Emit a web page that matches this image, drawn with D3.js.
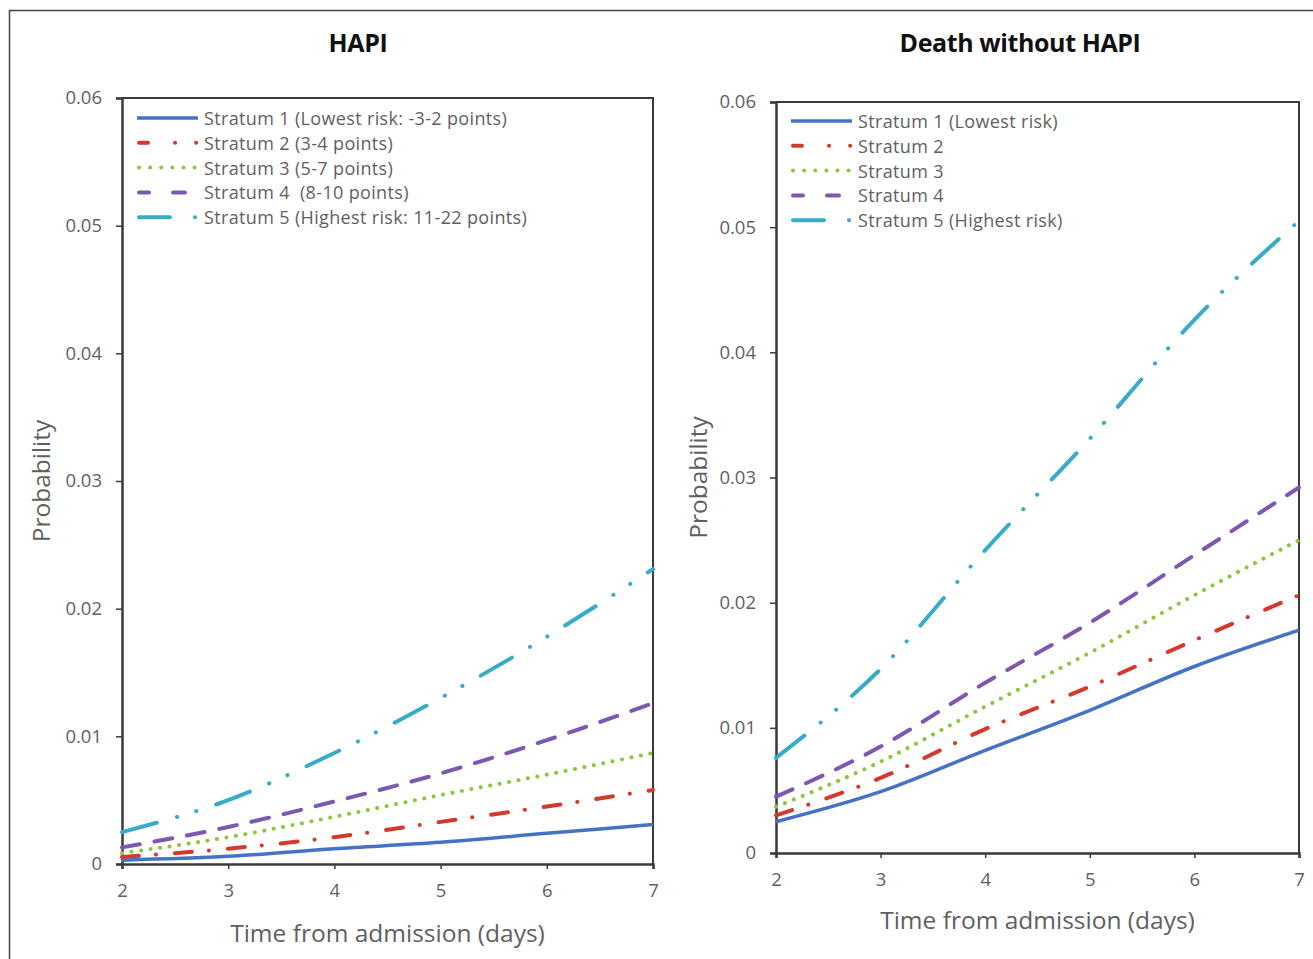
<!DOCTYPE html>
<html>
<head>
<meta charset="utf-8">
<script src="https://cdn.jsdelivr.net/npm/d3@7"></script>
<style>
  html, body { margin: 0; padding: 0; background: #fff; }
  svg { display: block; }
  text { font-family: "Open Sans", sans-serif; }
</style>
</head>
<body>
<svg id="chart" width="1313" height="959"></svg>
<script>
// ---------- data ----------
const days = [2, 3, 4, 5, 6, 7];
const yTicks = [0, 0.01, 0.02, 0.03, 0.04, 0.05, 0.06];

const hapiTitle = "HAPI";
const hapiLegend = [
  "Stratum 1 (Lowest risk: -3-2 points)",
  "Stratum 2 (3-4 points)",
  "Stratum 3 (5-7 points)",
  "Stratum 4  (8-10 points)",
  "Stratum 5 (Highest risk: 11-22 points)"
];
const hapiS1 = [0.0003, 0.0006, 0.0012, 0.0017, 0.0024, 0.0031];
const hapiS2 = [0.00055, 0.0012, 0.0021, 0.0033, 0.0045, 0.0058];
const hapiS3 = [0.00085, 0.0021, 0.0037, 0.0054, 0.0070, 0.0087];
const hapiS4 = [0.0013, 0.0029, 0.0049, 0.0071, 0.0097, 0.0126];
const hapiS5 = [0.0025, 0.0050, 0.0087, 0.0130, 0.0178, 0.0231];

const deathTitle = "Death without HAPI";
const deathLegend = [
  "Stratum 1 (Lowest risk)",
  "Stratum 2",
  "Stratum 3",
  "Stratum 4",
  "Stratum 5 (Highest risk)"
];
const deathS1 = [0.0025, 0.0049, 0.0082, 0.0114, 0.0149, 0.0178];
const deathS2 = [0.0030, 0.0060, 0.0099, 0.0133, 0.0170, 0.0206];
const deathS3 = [0.0037, 0.0073, 0.0117, 0.0160, 0.0206, 0.0250];
const deathS4 = [0.0045, 0.0085, 0.0136, 0.0184, 0.0238, 0.0292];
const deathS5 = [0.0076, 0.0147, 0.0242, 0.0331, 0.0426, 0.0505];

const xTitle = "Time from admission (days)";
const yTitle = "Probability";

// ---------- styles ----------
const colors = ["#4472c4", "#d33a2c", "#8dc63f", "#7e57b0", "#36acc9"];
const dashes = [null, "17,17,0.1,19", "0.1,9.5", "18,15", "36,21,0.1,20,0.1,21"];
const legendDashes = [null, "9,27,0.1,21,0.1,20", "0.1,11", "10,24,12,20", "31,25,0.1,20"];
const axisColor = "#3a3a3a";
const textColor = "#5f5f5f";
const font = "'Open Sans', sans-serif";

const svg = d3.select("#chart");

// outer frame
svg.append("path")
  .attr("d", "M9.5,980 L9.5,10.5 L1330,10.5")
  .attr("fill", "none").attr("stroke", "#444").attr("stroke-width", 1.5);

const panels = [
  { title: hapiTitle, titleX: 358, legend: hapiLegend, series: [hapiS1, hapiS2, hapiS3, hapiS4, hapiS5],
    x0: 122, x1: 653, y0: 864, y1: 98, legY: 118, xTitleY: 932, yTitleX: 40 },
  { title: deathTitle, titleX: 1020, legend: deathLegend, series: [deathS1, deathS2, deathS3, deathS4, deathS5],
    x0: 776, x1: 1299, y0: 853, y1: 102, legY: 121, xTitleY: 919, yTitleX: 697 }
];

panels.forEach(p => {
  const g = svg.append("g");
  const x = d3.scaleLinear().domain([2, 7]).range([p.x0, p.x1]);
  const y = d3.scaleLinear().domain([0, 0.06]).range([p.y0, p.y1]);

  // title
  g.append("text").attr("x", p.titleX).attr("y", 42)
    .attr("text-anchor", "middle").attr("dominant-baseline", "central")
    .attr("font-size", 25).attr("font-weight", "bold")
    .attr("fill", "#111").style("letter-spacing", "-0.4px").text(p.title);

  // plot box (top & right)
  g.append("path")
    .attr("d", `M${p.x0},${p.y1} L${p.x1},${p.y1} L${p.x1},${p.y0}`)
    .attr("fill", "none").attr("stroke", axisColor).attr("stroke-width", 2);

  // y axis
  const yAxis = d3.axisLeft(y).tickValues(yTicks)
    .tickFormat(d => d === 0 ? "0" : d3.format(".2f")(d))
    .tickSize(6).tickPadding(14);
  const ya = g.append("g").attr("transform", `translate(${p.x0},0)`).call(yAxis);
  ya.select(".domain").attr("stroke", axisColor).attr("stroke-width", 2.5);
  ya.selectAll(".tick line").attr("stroke", axisColor).attr("stroke-width", 1.5);
  ya.selectAll(".tick text").attr("fill", textColor).attr("font-size", 18.5)
    .style("font-family", font);

  // x axis
  const xAxis = d3.axisBottom(x).tickValues(days).tickFormat(d3.format("d"))
    .tickSize(5).tickPadding(15);
  const xa = g.append("g").attr("transform", `translate(0,${p.y0})`).call(xAxis);
  xa.select(".domain").attr("stroke", axisColor).attr("stroke-width", 2.5);
  xa.selectAll(".tick line").attr("stroke", axisColor).attr("stroke-width", 1.5);
  xa.selectAll(".tick text").attr("fill", textColor).attr("font-size", 18.5)
    .style("font-family", font);

  // axis titles
  g.append("text").attr("x", (p.x0 + p.x1) / 2).attr("y", p.xTitleY)
    .attr("text-anchor", "middle").attr("dominant-baseline", "central")
    .attr("font-size", 24.5).attr("fill", textColor).text(xTitle);
  g.append("text")
    .attr("transform", `translate(${p.yTitleX},${(p.y0 + p.y1) / 2}) rotate(-90)`)
    .attr("text-anchor", "middle").attr("dominant-baseline", "central")
    .attr("font-size", 24.5).attr("fill", textColor).text(yTitle);

  // lines
  const line = d3.line().x((d, i) => x(days[i])).y(d => y(d)).curve(d3.curveMonotoneX);
  p.series.forEach((s, k) => {
    g.append("path").datum(s).attr("d", line)
      .attr("fill", "none").attr("stroke", colors[k])
      .attr("stroke-width", k === 0 ? 3.5 : 4)
      .attr("stroke-linecap", k === 0 ? "butt" : "round")
      .attr("stroke-dasharray", dashes[k]);
  });

  // legend
  p.legend.forEach((lab, k) => {
    const ly = p.legY + k * 24.8;
    const lx = p.x0 + 15;
    g.append("line").attr("x1", k === 0 ? lx : lx + 2).attr("x2", lx + 61).attr("y1", ly).attr("y2", ly)
      .attr("stroke", colors[k]).attr("stroke-width", k === 0 ? 3.5 : 4)
      .attr("stroke-linecap", k === 0 ? "butt" : "round")
      .attr("stroke-dasharray", legendDashes[k]);
    g.append("text").attr("x", lx + 67).attr("y", ly).attr("dominant-baseline", "central")
      .attr("font-size", 18).attr("fill", textColor)
      .style("letter-spacing", "0.35px")
      .style("white-space", "pre").text(lab);
  });
});
</script>
</body>
</html>
